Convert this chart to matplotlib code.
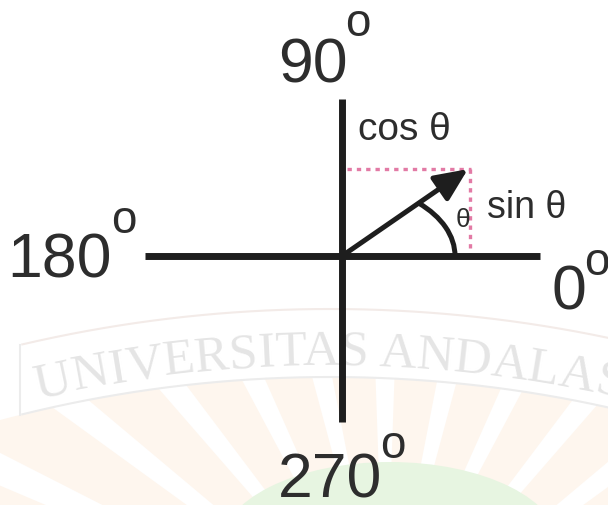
import numpy as np
import matplotlib
matplotlib.use("Agg")
import matplotlib.pyplot as plt
from matplotlib.patches import Arc, Wedge, Ellipse, Polygon
from matplotlib.font_manager import FontProperties

# ---------------- data ----------------
angle_labels = ["0", "90", "180", "270"]
degree_mark = "o"
theta_deg = 34.6          # angle of the vector
vector_len = 153          # length of the vector (px units of the diagram)
axis_left, axis_right = 197, 198
axis_up, axis_down = 157, 166
arc_a, arc_b = 113, 72    # semi axes of the angle arc
cos_label = "cos θ"
sin_label = "sin θ"
theta_label = "θ"
watermark = "UNIVERSITAS ANDALAS"

W, H = 608, 506
fig = plt.figure(figsize=(6.08, 5.06), dpi=100)
ax = fig.add_axes([0, 0, 1, 1])
ax.set_xlim(0, W)
ax.set_ylim(H, 0)
ax.axis("off")
fig.patch.set_facecolor("white")

ox, oy = 342, 257
ink = "#1e1e1e"
txt = "#2d2d2d"
pink = "#e27aa5"

# ---------------- watermark background ----------------
cx, cy = 330, 1665
ray_c = (385, 650)
for k in range(-6, 7):
    a0 = -88 + 13 * k
    ax.add_patch(Wedge(ray_c, 800, a0, a0 + 9, facecolor="#fef6ee",
                       edgecolor="none", zorder=0))
ax.add_patch(Ellipse((390, 548), 340, 170, facecolor="#e7f5e1",
                     edgecolor="none", zorder=0.5))
R_bot, R_top, R_txt = 1287, 1355, 1300
xs = np.linspace(-20, W + 20, 200)
yb = cy - np.sqrt(R_bot**2 - (xs - cx) ** 2)
yt = cy - np.sqrt(R_top**2 - (xs - cx) ** 2)
cover = np.column_stack([np.r_[xs, xs[::-1]], np.r_[yb, np.full_like(xs, -10)]])
ax.add_patch(Polygon(cover, closed=True, facecolor="white", edgecolor="none", zorder=0.8))
m = xs >= 20
ax.plot(xs[m], yb[m], color="#ececec", lw=1.5, zorder=0.9)
ax.plot(xs[m], yt[m], color="#f3ebe8", lw=1.5, zorder=0.9)
ax.plot([20, 20], [cy - np.sqrt(R_top**2 - (20 - cx) ** 2), cy - np.sqrt(R_bot**2 - (20 - cx) ** 2)],
        color="#ececec", lw=1.5, zorder=0.9)

renderer = fig.canvas.get_renderer()
wprop = FontProperties(family="Liberation Serif", size=37)
def tw(s):
    return renderer.get_text_width_height_descent(s, wprop, ismath=False)[0]
s_start = R_txt * np.arcsin((38 - cx) / R_txt)
for i, ch in enumerate(watermark):
    if ch == " ":
        continue
    s_c = s_start + tw(watermark[: i + 1]) - tw(ch) / 2
    phi = s_c / R_txt
    x = cx + R_txt * np.sin(phi)
    y = cy - R_txt * np.cos(phi)
    ax.text(x, y, ch, fontproperties=wprop, color="#e5e5e5", ha="center",
            va="baseline", rotation=-np.degrees(phi), rotation_mode="anchor", zorder=1)

# ---------------- diagram ----------------
ax.plot([ox - axis_left, ox + axis_right], [oy, oy], color=ink, lw=5,
        solid_capstyle="butt", zorder=3)
ax.plot([ox, ox], [oy - axis_up, oy + axis_down], color=ink, lw=5,
        solid_capstyle="butt", zorder=3)

th = np.radians(theta_deg)
tip = (ox + vector_len * np.cos(th), oy - vector_len * np.sin(th))

ax.plot([ox + 5, tip[0] + 3], [tip[1], tip[1]], color=pink, lw=2.4,
        dashes=(1.3, 1.5), zorder=2)
ax.plot([tip[0] + 2, tip[0] + 2], [tip[1], oy], color=pink, lw=2.4,
        dashes=(1.3, 1.5), zorder=2)

ax.annotate("", xy=tip, xytext=(ox, oy),
            arrowprops=dict(arrowstyle="-|>,head_length=1.0,head_width=0.45",
                            lw=3.6, color=ink, mutation_scale=20,
                            shrinkA=0, shrinkB=0), zorder=4)

ax.add_patch(Arc((ox, oy), 2 * arc_a, 2 * arc_b, theta1=-theta_deg, theta2=0,
                 color=ink, lw=3.6, zorder=4))

# ---------------- labels ----------------
fam = ["Liberation Sans", "DejaVu Sans"]
big, sup = 45, 33
ax.text(313, 82, angle_labels[1], family=fam, size=big, color=txt, ha="center", va="baseline")
ax.text(358, 36, degree_mark, family=fam, size=sup, color=txt, ha="center", va="baseline")
ax.text(60, 277, angle_labels[2], family=fam, size=big, color=txt, ha="center", va="baseline")
ax.text(124, 233, degree_mark, family=fam, size=sup, color=txt, ha="center", va="baseline")
ax.text(569, 310, angle_labels[0], family=fam, size=big, color=txt, ha="center", va="baseline")
ax.text(597, 275, degree_mark, family=fam, size=sup, color=txt, ha="center", va="baseline")
ax.text(330, 498, angle_labels[3], family=fam, size=big, color=txt, ha="center", va="baseline")
ax.text(393, 458, degree_mark, family=fam, size=sup, color=txt, ha="center", va="baseline")

ax.text(358, 140, cos_label, family=fam, size=28, color=txt, ha="left", va="baseline")
ax.text(487, 218, sin_label, family=fam, size=27, color=txt, ha="left", va="baseline")
ax.text(463, 227, theta_label, family=fam, size=19, color=txt, ha="center", va="baseline")

fig.savefig("out.png", dpi=100, facecolor="white")
